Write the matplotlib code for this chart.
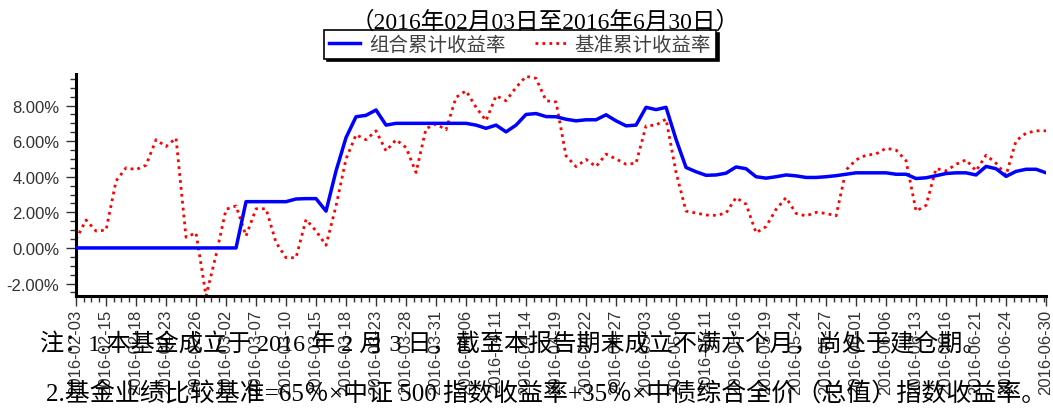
import matplotlib
matplotlib.use('Agg')
import matplotlib.pyplot as plt
from matplotlib.ticker import MultipleLocator, FuncFormatter
import pandas as pd

plt.rcParams['font.family'] = ['Liberation Sans', 'Noto Sans CJK SC']
serif_cjk = ['Liberation Serif', 'Noto Sans CJK SC']

# 交易日 (2016-02-03 ~ 2016-06-30, 去掉节假日)
holidays = ['2016-02-08', '2016-02-09', '2016-02-10', '2016-02-11', '2016-02-12',
            '2016-04-04', '2016-05-02', '2016-06-09', '2016-06-10']
days = [d.strftime('%Y-%m-%d') for d in pd.bdate_range('2016-02-03', '2016-06-30')
        if d.strftime('%Y-%m-%d') not in holidays]

tick_labels = ['2016-02-03', '2016-02-15', '2016-02-18', '2016-02-23', '2016-02-26',
               '2016-03-02', '2016-03-07', '2016-03-10', '2016-03-15', '2016-03-18',
               '2016-03-23', '2016-03-28', '2016-03-31', '2016-04-06', '2016-04-11',
               '2016-04-14', '2016-04-19', '2016-04-22', '2016-04-27', '2016-05-03',
               '2016-05-06', '2016-05-11', '2016-05-16', '2016-05-19', '2016-05-24',
               '2016-05-27', '2016-06-01', '2016-06-06', '2016-06-13', '2016-06-16',
               '2016-06-21', '2016-06-24', '2016-06-30']

# 组合累计收益率 (%)
portfolio = [0.0, 0.0, 0.0, 0.0, 0.0, 0.0, 0.0, 0.0, 0.0, 0.0,
             0.0, 0.0, 0.0, 0.0, 0.0, 0.0, 0.0, 2.6, 2.6, 2.6,
             2.6, 2.6, 2.75, 2.77, 2.77, 2.07, 4.33, 6.2, 7.37, 7.45,
             7.75, 6.9, 7.0, 7.0, 7.0, 7.0, 7.0, 7.0, 7.0, 7.0,
             6.9, 6.72, 6.9, 6.52, 6.9, 7.5, 7.55, 7.38, 7.37, 7.23,
             7.14, 7.2, 7.2, 7.48, 7.14, 6.86, 6.9, 7.9, 7.77, 7.9,
             6.1, 4.52, 4.28, 4.08, 4.1, 4.2, 4.55, 4.45, 4.0, 3.92,
             4.0, 4.1, 4.05, 3.96, 3.96, 4.0, 4.06, 4.14, 4.22, 4.22,
             4.22, 4.22, 4.14, 4.14, 3.9, 3.94, 4.06, 4.18, 4.22, 4.22,
             4.1, 4.58, 4.45, 4.02, 4.3, 4.42, 4.42, 4.22]

# 基准累计收益率 (%)
benchmark = [0.48, 1.57, 0.95, 1.0, 3.76, 4.5, 4.4, 4.65, 6.08, 5.7,
             6.17, 0.6, 0.85, -2.7, -0.4, 2.17, 2.36, 0.67, 2.2, 2.2,
             0.3, -0.55, -0.55, 1.6, 0.95, 0.15, 2.36, 5.0, 6.36, 6.08,
             6.58, 5.45, 6.08, 5.64, 4.24, 6.71, 6.96, 6.64, 8.46, 8.83,
             7.9, 7.15, 8.55, 8.27, 9.02, 9.64, 9.53, 8.27, 8.2, 5.17,
             4.57, 4.97, 4.57, 5.27, 5.0, 4.7, 4.76, 6.86, 6.9, 7.24,
             4.24, 2.07, 1.96, 1.85, 1.83, 1.96, 2.83, 2.46, 0.85, 1.2,
             2.17, 2.83, 1.94, 1.8, 2.0, 1.94, 1.8, 4.38, 4.95, 5.21,
             5.28, 5.6, 5.5, 4.9, 2.07, 2.39, 4.46, 4.33, 4.7, 4.95,
             4.33, 5.21, 4.76, 4.08, 6.02, 6.45, 6.58, 6.58]

title = '（2016年02月03日至2016年6月30日）'
note1 = '注：1.本基金成立于 2016 年 2 月 3 日，截至本报告期末成立不满六个月，尚处于建仓期。'
note2 = '2.基金业绩比较基准=65％×中证 500 指数收益率+35％×中债综合全价（总值）指数收益率。'

x = list(range(len(days)))

fig = plt.figure(figsize=(10.53, 4.10), dpi=100)
ax = fig.add_axes([0.0722, 0.2756, 0.9212, 0.5414])

ax.plot(x, portfolio, color='#0000ff', lw=2.5, label='组合累计收益率', zorder=3)
ax.plot(x, benchmark, color='#ff0000', lw=2.0, dashes=(1, 1.5),
        label='基准累计收益率', zorder=2)

ax.set_xlim(0, len(days) - 1)
ax.set_ylim(-2.70, 9.77)

for s in ['top', 'right']:
    ax.spines[s].set_visible(False)
for s in ['left', 'bottom']:
    ax.spines[s].set_linewidth(2.2)

ax.set_xticks([days.index(t) for t in tick_labels])
ax.set_xticklabels(tick_labels, rotation=90, fontsize=12, color='#333333')
ax.xaxis.set_minor_locator(MultipleLocator(0.75))
ax.yaxis.set_major_locator(MultipleLocator(2))
ax.yaxis.set_minor_locator(MultipleLocator(0.5))
ax.yaxis.set_major_formatter(FuncFormatter(lambda v, p: f'{v:.2f}%'))
ax.tick_params(axis='y', labelsize=12, labelcolor='#333333', pad=5)
ax.tick_params(axis='x', pad=2)
ax.tick_params(which='major', direction='out', length=7, width=1, color='#333333')
ax.tick_params(which='minor', direction='out', length=4, width=1, color='#333333')

fig.text(0.518, 0.946, title, family=serif_cjk, fontsize=17,
         ha='center', va='center', zorder=1)

leg = ax.legend(loc='center', bbox_to_anchor=(0.494, 0.889),
                bbox_transform=fig.transFigure, ncol=2, fontsize=14,
                frameon=True, fancybox=False, edgecolor='black',
                shadow={'color': 'black', 'alpha': 1},
                handlelength=1.6, handletextpad=0.45, columnspacing=1.5,
                borderpad=0.25, borderaxespad=0)
leg.get_frame().set_linewidth(1.2)
for t in leg.get_texts():
    t.set_color('#404040')
leg.set_zorder(5)

fig.text(0.038, 1 - 344 / 410, note1, family=serif_cjk, fontsize=17.4,
         ha='left', va='center', color='black', zorder=10)
fig.text(0.044, 1 - 394 / 410, note2, family=serif_cjk, fontsize=18,
         ha='left', va='center', color='black', zorder=10)

fig.savefig('out.png', dpi=100)
